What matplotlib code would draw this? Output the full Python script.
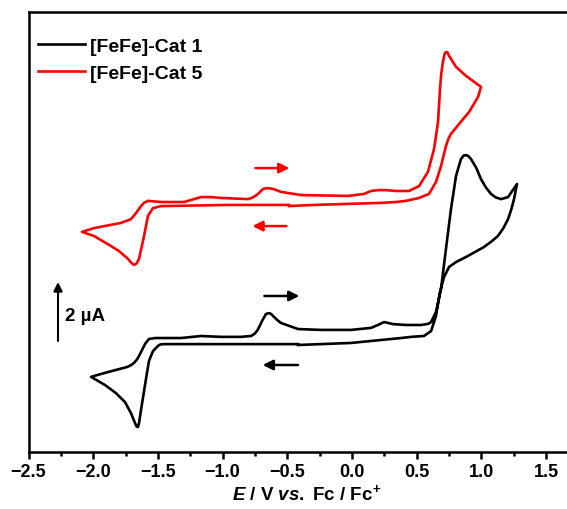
import matplotlib
matplotlib.use('Agg')
import matplotlib.pyplot as plt

plt.rcParams['font.family'] = ['Liberation Sans', 'DejaVu Sans']
plt.rcParams['font.weight'] = 'bold'
plt.rcParams['axes.labelweight'] = 'bold'
plt.rcParams['mathtext.fontset'] = 'custom'
plt.rcParams['mathtext.it'] = 'Liberation Sans:italic:bold'
plt.rcParams['mathtext.bf'] = 'Liberation Sans:bold'
plt.rcParams['mathtext.rm'] = 'Liberation Sans:bold'

# [FeFe]-Cat 1 (potential in V vs Fc/Fc+, current in uA, offset trace)
cat1_E = [-0.417, -0.780, -1.167, -1.453, -1.480, -1.499, -1.538, -1.569, -1.592, -1.623, -1.646,
          -1.654, -1.665, -1.677, -1.708, -1.754, -1.824, -1.909, -2.017,
          -1.940, -1.824, -1.739, -1.710, -1.685, -1.660, -1.638, -1.600, -1.569, -1.515, -1.321,
          -1.167, -1.012, -0.858, -0.780, -0.755, -0.734, -0.715, -0.695, -0.665, -0.641,
          -0.625, -0.610, -0.580, -0.549, -0.417, -0.240, -0.008, 0.147, 0.200, 0.247,
          0.280, 0.317, 0.417, 0.533, 0.590, 0.611,
          0.649, 0.688, 0.726, 0.765, 0.804, 0.842, 0.862, 0.881, 0.900, 0.920, 0.960,
          0.997, 1.035, 1.074, 1.110, 1.152, 1.206, 1.275,
          1.252, 1.230, 1.206, 1.170, 1.128, 1.075, 1.020, 0.960, 0.896, 0.804, 0.750,
          0.711, 0.680, 0.649, 0.611, 0.556, 0.456, 0.379, -0.008, -0.417]
cat1_I = [3.72, 3.72, 3.72, 3.72, 3.71, 3.66, 3.48, 3.14, 2.52, 1.66, 1.00,
          0.86, 0.88, 1.00, 1.34, 1.72, 2.03, 2.31, 2.59,
          2.69, 2.83, 2.93, 2.99, 3.07, 3.20, 3.38, 3.72, 3.90, 3.93, 3.93,
          4.00, 3.97, 3.97, 4.00, 4.07, 4.17, 4.33, 4.52, 4.76, 4.79,
          4.76, 4.69, 4.56, 4.45, 4.24, 4.21, 4.21, 4.28, 4.38, 4.48,
          4.45, 4.41, 4.38, 4.38, 4.42, 4.48,
          4.83, 5.62, 7.00, 8.38, 9.52, 10.10, 10.22, 10.24, 10.20, 10.10, 9.80,
          9.41, 9.12, 8.90, 8.78, 8.72, 8.79, 9.24,
          8.72, 8.35, 8.03, 7.72, 7.45, 7.25, 7.07, 6.92, 6.76, 6.55, 6.38,
          6.03, 5.52, 4.69, 4.17, 4.00, 3.97, 3.93, 3.76, 3.69]

# [FeFe]-Cat 5
cat5_E = [-0.487, -0.958, -1.476, -1.538, -1.577, -1.607, -1.646, -1.665, -1.685, -1.705,
          -1.731, -1.801, -1.862, -1.994, -2.087,
          -1.994, -1.785, -1.708, -1.669, -1.631, -1.605, -1.577, -1.476, -1.298, -1.244,
          -1.167, -1.090, -1.012, -0.804, -0.765, -0.726, -0.688, -0.657, -0.635, -0.610, -0.549,
          -0.394, -0.031, 0.093, 0.147, 0.201, 0.263, 0.340, 0.440, 0.518, 0.587,
          0.634, 0.665, 0.680, 0.690, 0.703, 0.715, 0.726, 0.738, 0.750, 0.804, 0.881, 0.997,
          0.974, 0.904, 0.827, 0.765, 0.745, 0.726, 0.688, 0.649, 0.595, 0.518, 0.417,
          0.340, 0.224, -0.294, -0.487]
cat5_I = [8.52, 8.52, 8.48, 8.41, 8.14, 7.45, 6.66, 6.50, 6.45, 6.52,
          6.66, 6.93, 7.10, 7.45, 7.59,
          7.72, 7.90, 8.03, 8.24, 8.48, 8.60, 8.66, 8.62, 8.62, 8.69,
          8.79, 8.79, 8.76, 8.72, 8.78, 8.90, 9.07, 9.10, 9.09, 9.07, 8.97,
          8.86, 8.83, 8.90, 9.00, 9.03, 9.03, 9.00, 9.00, 9.17, 9.66,
          10.45, 11.38, 12.52, 13.05, 13.45, 13.72, 13.79, 13.78, 13.66, 13.28, 12.97, 12.59,
          12.24, 11.72, 11.31, 10.97, 10.80, 10.55, 9.86, 9.31, 8.90, 8.76, 8.66,
          8.62, 8.59, 8.52, 8.48]

labels = ['[FeFe]-Cat 1', '[FeFe]-Cat 5']
colors = ['black', 'red']

# scan direction arrows: (E_start, E_end, I)
arrows_cat1 = [(-0.677, -0.407, 5.38), (-0.417, -0.690, 3.00)]
arrows_cat5 = [(-0.746, -0.484, 9.79), (-0.507, -0.770, 7.79)]

W, H = 567, 510
fig = plt.figure(figsize=(W / 100, H / 100), dpi=100)
x_px_per_V = 129.4
left_px, bottom_px, top_px = 28.5, 453, 12.5
xmin, xmax = -2.5, 1.8
ax = fig.add_axes([left_px / W, 1 - bottom_px / H,
                   (xmax - xmin) * x_px_per_V / W, (bottom_px - top_px) / H])

ax.plot(cat1_E, cat1_I, color=colors[0], lw=1.9, label=labels[0], solid_joinstyle='round')
ax.plot(cat5_E, cat5_I, color=colors[1], lw=1.9, label=labels[1], solid_joinstyle='round')

for arrs, c in [(arrows_cat1, colors[0]), (arrows_cat5, colors[1])]:
    for e0, e1, i in arrs:
        ax.annotate('', xy=(e1, i), xytext=(e0, i),
                    arrowprops=dict(arrowstyle='-|>', color=c, lw=1.8,
                                    mutation_scale=15, shrinkA=0, shrinkB=0))

# 2 uA scale bar
ax.annotate('', xy=(-2.272, 5.86), xytext=(-2.272, 3.83),
            arrowprops=dict(arrowstyle='-|>', color='black', lw=1.5,
                            mutation_scale=13, shrinkA=0, shrinkB=0))
ax.text(-2.215, 4.69, '2 µA', fontsize=13.5, fontweight='bold', va='center', ha='left')

ax.set_xlim(xmin, xmax)
ax.set_ylim(0, (bottom_px - top_px) / 29)
ax.set_yticks([])
ax.set_xticks([-2.5, -2.0, -1.5, -1.0, -0.5, 0.0, 0.5, 1.0, 1.5])
ax.set_xticks([-2.25, -1.75, -1.25, -0.75, -0.25, 0.25, 0.75, 1.25], minor=True)
ax.tick_params(axis='x', which='major', length=5, width=1.8, labelsize=13, pad=3)
ax.tick_params(axis='x', which='minor', length=3, width=1.8)
for s in ax.spines.values():
    s.set_linewidth(1.8)
ax.set_xlabel(r'$\mathit{E}$ / V $\mathit{vs.}$ Fc / Fc$^{+}$', fontsize=13.5,
              fontweight='bold', labelpad=2)

ax.legend(loc='upper left', bbox_to_anchor=(38 / W, 1 - 38 / H),
          bbox_transform=fig.transFigure, frameon=False, fontsize=14,
          handlelength=2.4, handletextpad=0.25, labelspacing=0.5,
          borderpad=0, borderaxespad=0)

fig.savefig('out.png', dpi=100)
